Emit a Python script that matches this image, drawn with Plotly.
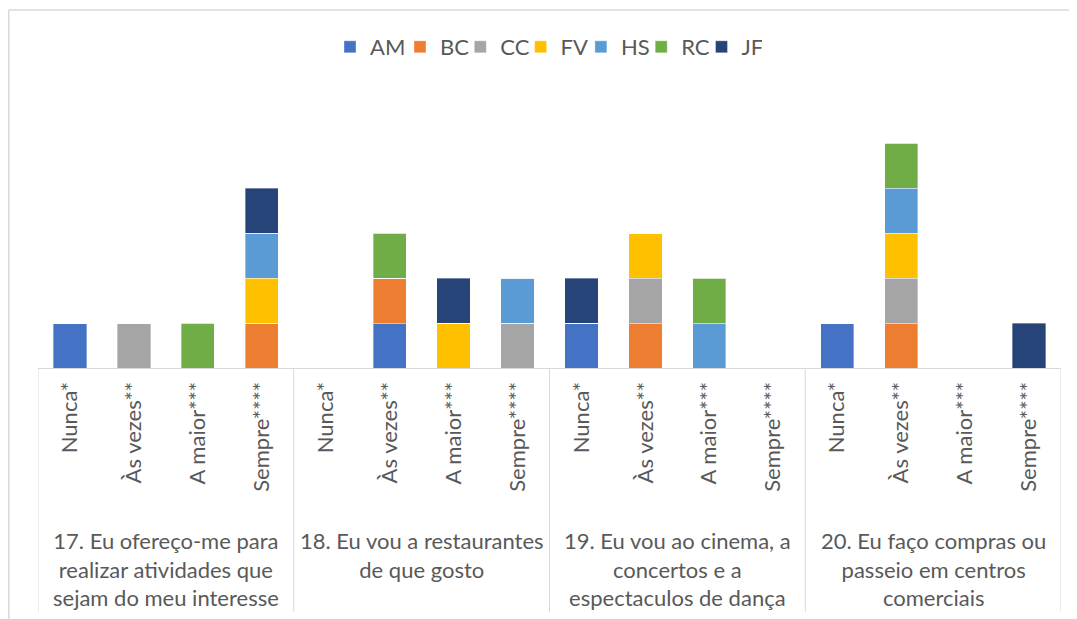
import plotly.graph_objects as go

groups = [
    "17. Eu ofereço-me para<br>realizar atividades que<br>sejam do meu interesse",
    "18. Eu vou a restaurantes<br>de que gosto",
    "19. Eu vou ao cinema, a<br>concertos e a<br>espectaculos de dança",
    "20. Eu faço compras ou<br>passeio em centros<br>comerciais",
]
subcats = ["Nunca*", "Às vezes**", "A maior***", "Sempre****"]

# values per series, ordered group by group (17, 18, 19, 20) x subcats
AM = [1, 0, 0, 0,  0, 1, 0, 0,  1, 0, 0, 0,  1, 0, 0, 0]
BC = [0, 0, 0, 1,  0, 1, 0, 0,  0, 1, 0, 0,  0, 1, 0, 0]
CC = [0, 1, 0, 0,  0, 0, 0, 1,  0, 1, 0, 0,  0, 1, 0, 0]
FV = [0, 0, 0, 1,  0, 0, 1, 0,  0, 1, 0, 0,  0, 1, 0, 0]
HS = [0, 0, 0, 1,  0, 0, 0, 1,  0, 0, 1, 0,  0, 1, 0, 0]
RC = [0, 0, 1, 0,  0, 1, 0, 0,  0, 0, 1, 0,  0, 1, 0, 0]
JF = [0, 0, 0, 1,  0, 0, 1, 0,  1, 0, 0, 0,  0, 0, 0, 1]

series_names = ["AM", "BC", "CC", "FV", "HS", "RC", "JF"]
series_vals = [AM, BC, CC, FV, HS, RC, JF]
colors = ["#4472C4", "#ED7D31", "#A5A5A5", "#FFC000", "#5B9BD5", "#70AD47", "#264478"]

n_sub = len(subcats)
xpos = list(range(len(groups) * n_sub))
ticktext = subcats * len(groups)

# the page body adds an 8px margin; work in page pixels and convert
OFF = 8
PAGE_W, PAGE_H = 1077, 619
W, H = PAGE_W - OFF, PAGE_H - OFF
PLOT_L, PLOT_R, PLOT_T, PLOT_B = 38, 1061, 98, 368  # page pixels
ML, MR, MT, MB = PLOT_L - OFF, W - (PLOT_R - OFF), PLOT_T - OFF, H - (PLOT_B - OFF)
PW, PH = W - ML - MR, H - MT - MB
YMAX = 6

def px_to_paper_x(px):
    return (px - PLOT_L) / PW

def px_to_paper_y(py):
    return (PLOT_B - py) / PH

FONT = "Lato"
TXT = "#595959"
GRID = "#D9D9D9"

fig = go.Figure()
for name, vals, col in zip(series_names, series_vals, colors):
    fig.add_trace(go.Bar(
        x=xpos, y=vals, name=name,
        marker=dict(color=col, line=dict(color="rgba(255,255,255,0.6)", width=0.6)),
        legendwidth=25 if name == "AM" else 15.3,
    ))

shapes = []
# group dividers
for g in range(len(groups) + 1):
    xv = g * n_sub - 0.5
    shapes.append(dict(type="line", xref="x", yref="paper", x0=xv, x1=xv,
                       y0=0, y1=px_to_paper_y(612), line=dict(color=GRID, width=1)))
# chart area border (top and left visible)
shapes.append(dict(type="line", xref="paper", yref="paper",
                   x0=px_to_paper_x(8.75), x1=px_to_paper_x(PAGE_W + 5),
                   y0=px_to_paper_y(10), y1=px_to_paper_y(10),
                   line=dict(color=GRID, width=1.5)))
shapes.append(dict(type="line", xref="paper", yref="paper",
                   x0=px_to_paper_x(8.75), x1=px_to_paper_x(8.75),
                   y0=px_to_paper_y(10), y1=px_to_paper_y(PAGE_H + 5),
                   line=dict(color=GRID, width=1.5)))

annotations = []
for g, label in enumerate(groups):
    annotations.append(dict(
        x=g * n_sub + (n_sub - 1) / 2, xref="x",
        y=px_to_paper_y(525), yref="paper", yanchor="top", xanchor="center",
        text=label, showarrow=False, align="center",
        font=dict(family=FONT, size=22, color=TXT),
    ))

fig.update_layout(
    width=W, height=H,
    margin=dict(l=ML, r=MR, t=MT, b=MB, autoexpand=False),
    paper_bgcolor="white", plot_bgcolor="white",
    barmode="stack", bargap=0.48,
    font=dict(family=FONT, size=22, color=TXT),
    showlegend=True,
    legend=dict(orientation="h", x=px_to_paper_x(330), xanchor="left",
                y=px_to_paper_y(47), yanchor="middle",
                font=dict(family=FONT, size=22, color=TXT),
                traceorder="normal", itemclick=False),
    xaxis=dict(
        range=[-0.5, len(xpos) - 0.5],
        tickmode="array", tickvals=xpos, ticktext=ticktext,
        tickangle=-90, ticks="", ticklabelstandoff=4,
        showline=True, linecolor=GRID, linewidth=1,
        showgrid=False, zeroline=False,
        tickfont=dict(family=FONT, size=22, color=TXT),
        fixedrange=True,
    ),
    yaxis=dict(range=[0, YMAX], visible=False, showgrid=False, zeroline=False,
               fixedrange=True),
    shapes=shapes,
    annotations=annotations,
)

fig.write_html("out.html")
